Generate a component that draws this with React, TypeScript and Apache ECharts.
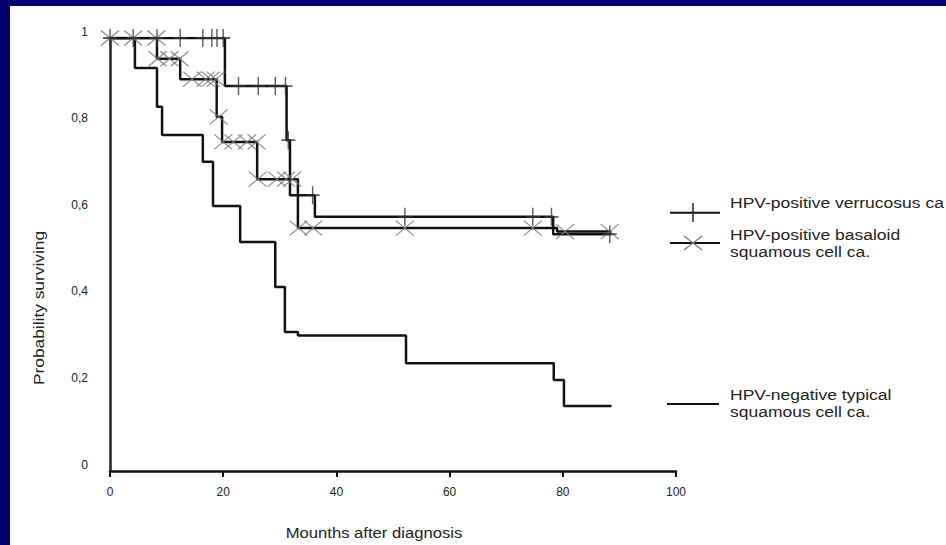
import React, { useEffect, useRef } from "react";
import * as echarts from "echarts";

// ---- data ----
const xTicks = [0, 20, 40, 60, 80, 100];
const yTicks = [0, 0.2, 0.4, 0.6, 0.8, 1];

const verrTimes = [0, 20.3, 31.2, 31.8, 36.2, 78.3, 88.6];
const verrSurv = [1, 0.889, 0.764, 0.637, 0.587, 0.547, 0.547];
const verrCensor = [0, 4.1, 8.3, 12.4, 16.4, 18.0, 18.9, 20.0, 22.7, 26.2, 29.2, 31.0, 31.5, 35.8, 52.1, 74.7, 78.0, 88.3];

const basTimes = [0, 8.3, 12.4, 18.85, 19.8, 26.0, 33.2, 79.0, 88.6];
const basSurv = [1, 0.952, 0.905, 0.818, 0.76, 0.674, 0.561, 0.553, 0.553];
const basCensor = [0, 4.1, 8.2, 8.4, 10.5, 12.3, 14.5, 16.9, 17.8, 18.7, 19.2, 20.0, 21.8, 24.2, 25.9, 26.1, 29.5, 31.1, 32.2, 33.3, 35.9, 52.1, 74.7, 80.4, 88.3];

const negTimes = [0, 4.4, 8.3, 9.2, 16.4, 18.2, 23.0, 29.2, 30.9, 33.2, 52.3, 78.4, 80.2, 88.6];
const negSurv = [1, 0.931, 0.841, 0.776, 0.714, 0.612, 0.529, 0.425, 0.321, 0.313, 0.249, 0.21, 0.15, 0.15];

const legendVerr = ["HPV-positive verrucosus ca"];
const legendBas = ["HPV-positive basaloid", "squamous cell ca."];
const legendNeg = ["HPV-negative typical", "squamous cell ca."];
const xTitle = "Mounths after diagnosis";
const yTitle = "Probability surviving";

const FONT = "'Liberation Sans', Arial, sans-serif";
const OX = 10;
const OY = 6;

function stepAt(times: number[], surv: number[], t: number) {
  let v = surv[0];
  for (let i = 0; i < times.length; i++) {
    if (times[i] <= t) v = surv[i];
  }
  return v;
}

function pairs(times: number[], surv: number[]) {
  return times.map((t, i) => [t, surv[i]]);
}

export default function App() {
  const ref = useRef<HTMLDivElement>(null);

  useEffect(() => {
    if (!ref.current) return;
    const chart = echarts.init(ref.current, undefined, { renderer: "svg" });

    const lineStyle = { color: "#111", width: 2.5 };
    const plusSymbol = "path://M7,0L7,18M0,9L14,9";
    const crossSymbol = "path://M0,0L18,15M0,15L18,0";

    const legendText = (x: number, y: number, text: string) => ({
      type: "text",
      x: x - OX,
      y: y - OY,
      scaleX: 1.13,
      style: {
        text,
        font: `15.5px ${FONT}`,
        fill: "#222",
        textAlign: "left",
        textVerticalAlign: "middle",
      },
    });
    const hline = (x1: number, x2: number, y: number) => ({
      type: "line",
      shape: { x1: x1 - OX, y1: y - OY, x2: x2 - OX, y2: y - OY },
      style: { stroke: "#111", lineWidth: 2 },
    });

    chart.setOption({
      animation: false,
      backgroundColor: "#ffffff",
      grid: { left: 100, top: 32, width: 566, height: 433, containLabel: false },
      xAxis: {
        type: "value",
        min: 0,
        max: 100,
        interval: 20,
        axisLine: { show: true, lineStyle: { color: "#111", width: 2.5 } },
        axisTick: { show: true, length: 6, lineStyle: { color: "#111", width: 2 } },
        axisLabel: {
          margin: 15,
          color: "#222",
          fontSize: 12,
          fontFamily: FONT,
          formatter: (v: number) => (xTicks.includes(v) ? String(v) : ""),
        },
        splitLine: { show: false },
      },
      yAxis: {
        type: "value",
        min: 0,
        max: 1,
        interval: 0.2,
        axisLine: { show: true, lineStyle: { color: "#222", width: 2.5 } },
        axisTick: { show: false },
        axisLabel: {
          margin: 22,
          color: "#222",
          fontSize: 12,
          fontFamily: FONT,
          verticalAlign: "bottom",
          lineHeight: 13,
          formatter: (v: number) => {
            const r = Math.round(v * 10) / 10;
            return yTicks.some((t) => Math.abs(t - r) < 1e-9) ? String(r).replace(".", ",") : "";
          },
        },
        splitLine: { show: false },
      },
      series: [
        {
          type: "line",
          step: "end",
          showSymbol: false,
          silent: true,
          lineStyle,
          data: pairs(negTimes, negSurv),
          z: 3,
        },
        {
          type: "line",
          step: "end",
          showSymbol: false,
          silent: true,
          lineStyle,
          data: pairs(basTimes, basSurv),
          z: 3,
        },
        {
          type: "line",
          step: "end",
          showSymbol: false,
          silent: true,
          lineStyle,
          data: pairs(verrTimes, verrSurv),
          z: 3,
        },
        {
          type: "scatter",
          silent: true,
          symbol: crossSymbol,
          symbolSize: [18, 15],
          itemStyle: { color: "rgba(0,0,0,0)", borderColor: "#7a7a7a", borderWidth: 1.3 },
          data: basCensor.map((t) => [t, stepAt(basTimes, basSurv, t)]),
          z: 4,
        },
        {
          type: "scatter",
          silent: true,
          symbol: plusSymbol,
          symbolSize: [14, 18],
          itemStyle: { color: "rgba(0,0,0,0)", borderColor: "#333", borderWidth: 1.6 },
          data: verrCensor.map((t) => [t, stepAt(verrTimes, verrSurv, t)]),
          z: 5,
        },
      ],
      graphic: [
        {
          type: "text",
          x: 38 - OX,
          y: 308 - OY,
          rotation: Math.PI / 2,
          scaleX: 1.12,
          style: {
            text: yTitle,
            font: `15.5px ${FONT}`,
            fill: "#222",
            textAlign: "center",
            textVerticalAlign: "middle",
          },
        },
        {
          type: "text",
          x: 374 - OX,
          y: 533 - OY,
          scaleX: 1.11,
          style: {
            text: xTitle,
            font: `15px ${FONT}`,
            fill: "#222",
            textAlign: "center",
            textVerticalAlign: "middle",
          },
        },
        // legend: verrucosus
        hline(670, 720, 212.7),
        {
          type: "line",
          shape: { x1: 693 - OX, y1: 203 - OY, x2: 693 - OX, y2: 222 - OY },
          style: { stroke: "#333", lineWidth: 1.6 },
        },
        legendText(730, 202.6, legendVerr[0]),
        // legend: basaloid
        hline(670, 720, 243),
        {
          type: "polyline",
          shape: { points: [[684 - OX, 236 - OY], [702 - OX, 250 - OY]] },
          style: { stroke: "#7a7a7a", lineWidth: 1.3, fill: null },
        },
        {
          type: "polyline",
          shape: { points: [[684 - OX, 250 - OY], [702 - OX, 236 - OY]] },
          style: { stroke: "#7a7a7a", lineWidth: 1.3, fill: null },
        },
        legendText(730, 234.6, legendBas[0]),
        legendText(730, 251.6, legendBas[1]),
        // legend: negative
        hline(667, 719, 404),
        legendText(730, 394.6, legendNeg[0]),
        legendText(730, 411.6, legendNeg[1]),
      ],
    });

    return () => {
      chart.dispose();
    };
  }, []);

  return (
    <div
      style={{
        position: "fixed",
        left: 0,
        top: 0,
        width: 946,
        height: 545,
        background: "#00006e",
        overflow: "hidden",
      }}
    >
      <div
        ref={ref}
        style={{
          position: "absolute",
          left: OX,
          top: OY,
          width: 946 - OX,
          height: 545 - OY,
          background: "#ffffff",
        }}
      />
    </div>
  );
}
